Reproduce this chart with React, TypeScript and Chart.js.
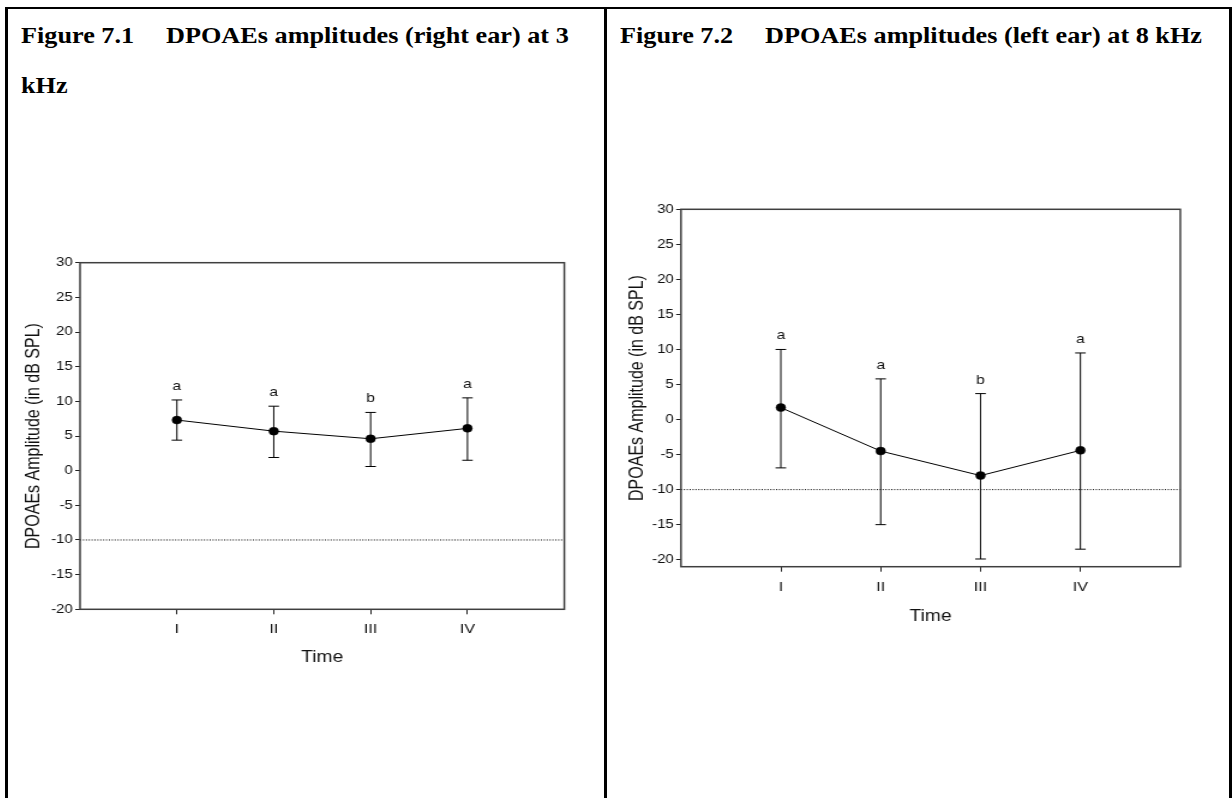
import React, { useEffect, useRef } from 'react';
import { Chart, registerables } from 'chart.js';

Chart.register(...registerables);

// ---------- data ----------
const timeLabels = ['I', 'II', 'III', 'IV'];
const timePos = [1, 2, 3, 4];
const xMin = 0;
const xMax = 5;
const refLevel = -10;
const yTicks = [-20, -15, -10, -5, 0, 5, 10, 15, 20, 25, 30];

const rightMean = [7.3, 5.7, 4.6, 6.1];
const rightUpper = [10.2, 9.3, 8.4, 10.5];
const rightLower = [4.4, 1.9, 0.6, 1.5];
const rightLetters = ['a', 'a', 'b', 'a'];

const leftMean = [1.7, -4.5, -8.0, -4.4];
const leftUpper = [10.0, 5.8, 3.7, 9.5];
const leftLower = [-6.9, -15.0, -19.9, -18.5];
const leftLetters = ['a', 'a', 'b', 'a'];

const yTitle = 'DPOAEs Amplitude (in dB SPL)';
const xTitle = 'Time';

// ---------- style ----------
const K = 1.2; // horizontal stretch of the original picture
const SANS = "'Liberation Sans', Arial, sans-serif";
const SERIF = "'Liberation Serif', 'Times New Roman', serif";

type PanelProps = {
  left: number;
  top: number;
  width: number;
  height: number;
  yMin: number;
  yMax: number;
  means: number[];
  uppers: number[];
  lowers: number[];
  letters: string[];
  padTop: number;
  padRight: number;
  yWidth: number;
  xHeight: number;
  yTitlePad: number;
  xTitlePad: number;
};

function Panel(p: PanelProps) {
  const ref = useRef<HTMLCanvasElement | null>(null);

  useEffect(() => {
    const canvas = ref.current;
    if (!canvas) return;
    const CAP = 4.4;
    const decor = {
      id: 'decor',
      beforeDatasetsDraw(chart: any) {
        const { ctx, scales } = chart;
        const x = scales.x;
        const y = scales.y;
        ctx.save();
        ctx.strokeStyle = '#000';
        ctx.lineWidth = 1;
        timePos.forEach((t, i) => {
          const px = x.getPixelForValue(t);
          const yu = y.getPixelForValue(p.uppers[i]);
          const yl = y.getPixelForValue(p.lowers[i]);
          ctx.beginPath();
          ctx.moveTo(px, yu);
          ctx.lineTo(px, yl);
          ctx.moveTo(px - CAP, yu);
          ctx.lineTo(px + CAP, yu);
          ctx.moveTo(px - CAP, yl);
          ctx.lineTo(px + CAP, yl);
          ctx.stroke();
        });
        ctx.restore();
      },
      afterDatasetsDraw(chart: any) {
        const { ctx, scales, chartArea: a } = chart;
        const x = scales.x;
        const y = scales.y;
        ctx.save();
        ctx.fillStyle = '#111';
        ctx.font = `13px ${SANS}`;
        ctx.textAlign = 'center';
        ctx.textBaseline = 'alphabetic';
        timePos.forEach((t, i) => {
          const px = x.getPixelForValue(t);
          const yu = y.getPixelForValue(p.uppers[i]);
          ctx.fillText(p.letters[i], px, yu - 10);
        });
        ctx.strokeStyle = '#3f3f3f';
        ctx.lineWidth = 1.5;
        ctx.strokeRect(a.left, a.top, a.right - a.left, a.bottom - a.top);
        ctx.restore();
      },
    };

    const chart = new Chart(canvas, {
      type: 'line',
      data: {
        datasets: [
          {
            data: timePos.map((t, i) => ({ x: t, y: p.means[i] })),
            borderColor: '#000',
            borderWidth: 1,
            pointRadius: 4,
            pointBorderWidth: 0.5,
            pointBackgroundColor: '#000',
            pointBorderColor: '#000',
            tension: 0,
            fill: false,
          },
          {
            data: [
              { x: xMin, y: refLevel },
              { x: xMax, y: refLevel },
            ],
            borderColor: '#000',
            borderWidth: 1,
            borderDash: [1, 1.4],
            pointRadius: 0,
            fill: false,
          },
        ],
      },
      options: {
        animation: false,
        responsive: true,
        maintainAspectRatio: false,
        events: [],
        layout: { padding: { left: 0, right: p.padRight, top: p.padTop, bottom: 0 } },
        plugins: { legend: { display: false }, tooltip: { enabled: false } },
        scales: {
          x: {
            type: 'linear',
            min: xMin,
            max: xMax,
            afterBuildTicks: (s: any) => {
              s.ticks = timePos.map((v) => ({ value: v }));
            },
            afterFit: (s: any) => {
              s.height = p.xHeight;
            },
            ticks: {
              autoSkip: false,
              maxRotation: 0,
              padding: 7.2,
              color: '#111',
              font: { family: SANS, size: 13.5 },
              callback: (v: any) => {
                const idx = timePos.indexOf(Number(v));
                return idx >= 0 ? timeLabels[idx] : '';
              },
            },
            grid: { drawOnChartArea: false, drawTicks: true, tickLength: 5, color: '#222', lineWidth: 1 },
            border: { display: false },
            title: {
              display: true,
              text: xTitle,
              color: '#111',
              font: { family: SANS, size: 16 },
              padding: { top: 0, bottom: p.xTitlePad },
            },
          },
          y: {
            type: 'linear',
            min: p.yMin,
            max: p.yMax,
            afterBuildTicks: (s: any) => {
              s.ticks = yTicks.map((v) => ({ value: v }));
            },
            afterFit: (s: any) => {
              s.width = p.yWidth;
            },
            ticks: {
              padding: 2,
              color: '#111',
              font: { family: SANS, size: 12.5 },
            },
            grid: { drawOnChartArea: false, drawTicks: true, tickLength: 4, color: '#222', lineWidth: 1 },
            border: { display: false },
            title: {
              display: true,
              text: yTitle,
              color: '#111',
              font: { family: SANS, size: 16 },
              padding: { top: p.yTitlePad, bottom: 0 },
            },
          },
        },
      },
      plugins: [decor],
    } as any);
    return () => chart.destroy();
  }, []);

  return (
    <div
      style={{
        position: 'absolute',
        left: p.left,
        top: p.top,
        width: p.width,
        height: p.height,
        transform: `scaleX(${K})`,
        transformOrigin: '0 0',
      }}
    >
      <canvas ref={ref} />
    </div>
  );
}

const titleStyle: React.CSSProperties = {
  position: 'absolute',
  fontFamily: SERIF,
  fontWeight: 'bold',
  fontSize: 23,
  lineHeight: '23px',
  whiteSpace: 'pre',
  color: '#000',
  transform: 'scaleX(1.14)',
  transformOrigin: '0 0',
};

function Line(props: { l: number; t: number; w: number; h: number }) {
  return (
    <div
      style={{ position: 'absolute', left: props.l, top: props.t, width: props.w, height: props.h, background: '#000' }}
    />
  );
}

export default function App() {
  return (
    <div
      style={{
        position: 'absolute',
        left: 0,
        top: 0,
        width: 1232,
        height: 798,
        background: '#fff',
        overflow: 'hidden',
      }}
    >
      <Line l={5} t={6.8} w={1226.5} h={2.2} />
      <Line l={5} t={6.8} w={2.5} h={792} />
      <Line l={604.4} t={6.8} w={2.5} h={792} />
      <Line l={1229.4} t={6.8} w={2.3} h={792} />

      <span style={{ ...titleStyle, left: 20.7, top: 23.5 }}>Figure 7.1</span>
      <span style={{ ...titleStyle, left: 165.7, top: 23.5 }}>DPOAEs amplitudes (right ear) at 3</span>
      <span style={{ ...titleStyle, left: 20.7, top: 73.5 }}>kHz</span>

      <span style={{ ...titleStyle, left: 620.4, top: 23.5 }}>Figure 7.2</span>
      <span style={{ ...titleStyle, left: 765.4, top: 23.5 }}>DPOAEs amplitudes (left ear) at 8 kHz</span>

      <Panel
        left={8}
        top={240}
        width={495}
        height={440}
        yMin={-20}
        yMax={30}
        means={rightMean}
        uppers={rightUpper}
        lowers={rightLower}
        letters={rightLetters}
        padTop={22.7}
        padRight={31.4}
        yWidth={60}
        xHeight={70.7}
        yTitlePad={11.8}
        xTitlePad={12.4}
      />
      <Panel
        left={608}
        top={185}
        width={515}
        height={452}
        yMin={-21}
        yMax={30}
        means={leftMean}
        uppers={leftUpper}
        lowers={leftLower}
        letters={leftLetters}
        padTop={24.3}
        padRight={38.1}
        yWidth={60.8}
        xHeight={70.3}
        yTitlePad={14.6}
        xTitlePad={10.7}
      />
    </div>
  );
}
